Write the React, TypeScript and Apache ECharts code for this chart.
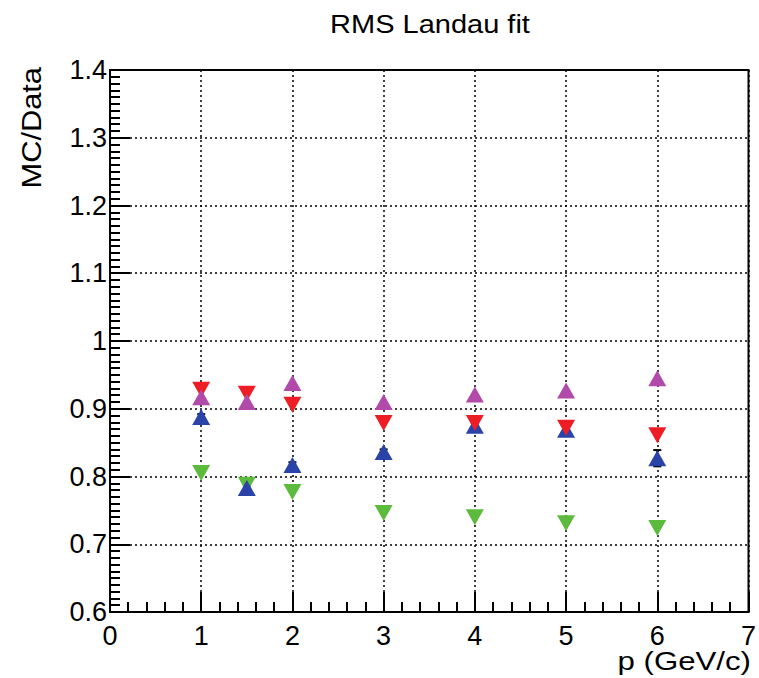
import React, { useEffect, useRef } from "react";
import * as echarts from "echarts";

const pValues = [1, 1.5, 2, 3, 4, 5, 6];
const redDown = [0.928, 0.922, 0.906, 0.879, 0.879, 0.872, 0.861];
const magentaUp = [0.917, 0.91, 0.938, 0.91, 0.921, 0.927, 0.945];
const blueUp = [0.888, 0.783, 0.817, 0.836, 0.875, 0.869, 0.827];
const greenDown = [0.805, 0.788, 0.777, 0.746, 0.74, 0.731, 0.724];
const blueErr = [0.004, 0.004, 0.004, 0.004, 0.004, 0.004, 0.012];

const titleText = "RMS Landau fit";
const xTitle = "p (GeV/c)";
const yTitle = "MC/Data";

const FONT = "'Liberation Sans', Arial, Helvetica, sans-serif";

function pts(ys: number[]) {
  return pValues.map((x, i) => [x, ys[i]]);
}

export default function App() {
  const ref = useRef<HTMLDivElement>(null);
  useEffect(() => {
    if (!ref.current) return;
    const chart = echarts.init(ref.current, undefined, { renderer: "svg" });
    const tri = (name: string, data: number[], color: string, down: boolean, z: number) => ({
      name,
      type: "scatter",
      data: pts(data),
      symbol: "triangle",
      symbolSize: [18, 16],
      symbolRotate: down ? 180 : 0,
      itemStyle: { color, opacity: 1 },
      z,
    });
    chart.setOption({
      animation: false,
      backgroundColor: "#fff",
      grid: {
        left: 110,
        right: 9,
        top: 70,
        bottom: 66,
        show: true,
        borderColor: "#000",
        borderWidth: 2,
        backgroundColor: "transparent",
      },
      xAxis: {
        type: "value",
        min: 0,
        max: 7,
        interval: 1,
        axisLine: { show: true, onZero: false, lineStyle: { color: "#000", width: 2 } },
        axisTick: { show: true, inside: true, length: 20, lineStyle: { color: "#000", width: 2 } },
        minorTick: { show: true, splitNumber: 5, length: 10, lineStyle: { color: "#000", width: 2 } },
        axisLabel: { color: "#000", fontSize: 27, fontFamily: FONT, margin: 10 },
        splitLine: { show: true, lineStyle: { color: "#000", type: [2, 3], width: 1.5 } },
      },
      yAxis: {
        type: "value",
        min: 0.6,
        max: 1.4,
        interval: 0.1,
        axisLine: { show: true, onZero: false, lineStyle: { color: "#000", width: 2 } },
        axisTick: { show: true, inside: true, length: 20, lineStyle: { color: "#000", width: 2 } },
        minorTick: { show: true, splitNumber: 10, length: 10, lineStyle: { color: "#000", width: 2 } },
        axisLabel: {
          color: "#000",
          fontSize: 27,
          fontFamily: FONT,
          margin: 3,
          formatter: (v: number) => String(Math.round(v * 10) / 10),
        },
        splitLine: { show: true, lineStyle: { color: "#000", type: [2, 3], width: 1.5 } },
      },
      series: [
        tri("green", greenDown, "#5cba3c", true, 2),
        tri("blue", blueUp, "#2a43a8", false, 3),
        {
          name: "blueErr",
          type: "custom",
          z: 2,
          data: pValues.map((x, i) => [x, blueUp[i], blueErr[i]]),
          renderItem: (params: any, api: any) => {
            const x = api.value(0);
            const y = api.value(1);
            const e = api.value(2);
            const top = api.coord([x, y + e]);
            const bot = api.coord([x, y - e]);
            const style = { stroke: "#000", lineWidth: 2 };
            return {
              type: "group",
              children: [
                { type: "line", shape: { x1: top[0], y1: top[1], x2: bot[0], y2: bot[1] }, style },
                { type: "line", shape: { x1: top[0] - 4, y1: top[1], x2: top[0] + 4, y2: top[1] }, style },
                { type: "line", shape: { x1: bot[0] - 4, y1: bot[1], x2: bot[0] + 4, y2: bot[1] }, style },
              ],
            };
          },
        },
        tri("red", redDown, "#ee1d25", true, 4),
        tri("magenta", magentaUp, "#b24aa9", false, 5),
      ],
      graphic: [
        {
          type: "text",
          x: 430,
          y: 24,
          scaleX: 1.16,
          style: {
            text: titleText,
            fontSize: 25,
            fontFamily: FONT,
            fill: "#000",
            textAlign: "center",
            textVerticalAlign: "middle",
          },
        },
        {
          type: "text",
          x: 751,
          y: 661,
          scaleX: 1.2,
          style: {
            text: xTitle,
            fontSize: 26,
            fontFamily: FONT,
            fill: "#000",
            textAlign: "right",
            textVerticalAlign: "middle",
          },
        },
        {
          type: "text",
          x: 31,
          y: 67,
          rotation: Math.PI / 2,
          scaleX: 1.1,
          style: {
            text: yTitle,
            fontSize: 28,
            fontFamily: FONT,
            fill: "#000",
            textAlign: "right",
            textVerticalAlign: "middle",
          },
        },
      ],
    });
    return () => chart.dispose();
  }, []);
  return (
    <div
      ref={ref}
      style={{ position: "fixed", left: 0, top: 0, width: 759, height: 678 }}
    />
  );
}
